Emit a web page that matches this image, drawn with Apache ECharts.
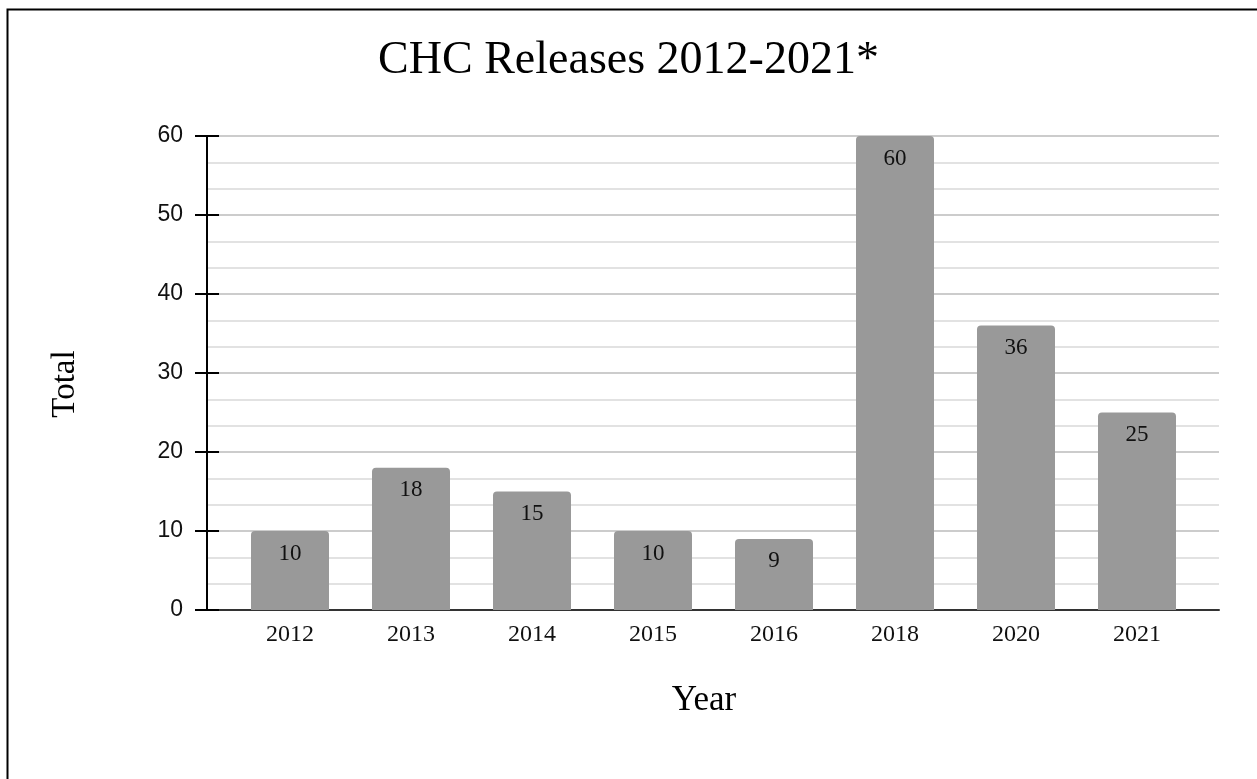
<!DOCTYPE html>
<html>
<head>
<meta charset="utf-8">
<title>CHC Releases 2012-2021*</title>
<script src="https://cdn.jsdelivr.net/npm/echarts@6/dist/echarts.min.js"></script>
<style>
  html, body { margin: 0; padding: 0; background: #ffffff; }
  #chart { width: 1257px; height: 779px; }
</style>
</head>
<body>
<div id="chart"></div>
<script>
// Release counts per year
const years = ['2012', '2013', '2014', '2015', '2016', '2018', '2020', '2021'];
const releases = [10, 18, 15, 10, 9, 60, 36, 25];
const yTicks = { min: 0, max: 60, step: 10 };

const SERIF = "'Liberation Serif', 'Times New Roman', Times, serif";
const SANS = "'Liberation Sans', Arial, Helvetica, sans-serif";

const chart = echarts.init(document.getElementById('chart'), null, { renderer: 'canvas' });

const plotTop = 136, plotBottom = 169;

chart.setOption({
  animation: false,
  backgroundColor: '#ffffff',
  grid: [
    // frame with gridlines and axes
    { left: 207, right: 38, top: plotTop, bottom: plotBottom },
    // inset area holding the bars
    { left: 229.5, right: 59.5, top: plotTop, bottom: plotBottom }
  ],
  xAxis: [
    {
      gridIndex: 0, type: 'value', min: 0, max: 1,
      axisLine: { show: true, onZero: false, lineStyle: { color: '#333333', width: 2 } },
      axisTick: { show: false }, axisLabel: { show: false }, splitLine: { show: false }
    },
    {
      gridIndex: 1, type: 'category', data: years,
      axisLine: { show: false }, axisTick: { show: false },
      axisLabel: { fontFamily: SERIF, fontSize: 24, color: '#111111', margin: 13 }
    }
  ],
  yAxis: [
    {
      gridIndex: 0, type: 'value', position: 'left',
      min: yTicks.min, max: yTicks.max, interval: yTicks.step,
      axisLine: { show: true, lineStyle: { color: '#000000', width: 2 } },
      axisTick: { show: true, length: 12, lineStyle: { color: '#000000', width: 2 } },
      axisLabel: { fontFamily: SANS, fontSize: 23, color: '#111111', margin: 24 },
      splitLine: { show: true, lineStyle: { color: '#cccccc', width: 2 } },
      minorTick: { show: false, splitNumber: 3 },
      minorSplitLine: { show: true, lineStyle: { color: '#e2e2e2', width: 2 } }
    },
    {
      // inner half of the crossing ticks
      gridIndex: 0, type: 'value', position: 'left', offset: 0,
      min: yTicks.min, max: yTicks.max, interval: yTicks.step,
      axisLine: { show: false },
      axisTick: { show: true, inside: true, length: 12, lineStyle: { color: '#000000', width: 2 } },
      axisLabel: { show: false }, splitLine: { show: false }
    },
    {
      gridIndex: 1, type: 'value', min: yTicks.min, max: yTicks.max, show: false
    }
  ],
  series: [
    {
      type: 'bar', name: 'Total',
      xAxisIndex: 1, yAxisIndex: 2,
      data: releases,
      barWidth: 78,
      itemStyle: { color: '#999999', borderRadius: [4, 4, 0, 0] },
      label: {
        show: true, position: 'insideTop', distance: 11,
        fontFamily: SERIF, fontSize: 23, color: '#111111'
      }
    }
  ],
  graphic: [
    {
      type: 'polyline', silent: true,
      shape: { points: [[7.5, 779], [7.5, 9.5], [1257, 9.5]] },
      style: { stroke: '#000000', lineWidth: 2, fill: null }
    },
    {
      type: 'text', x: 628.5, y: 61,
      style: { text: 'CHC Releases 2012-2021*', font: '46px ' + SERIF, fill: '#000000', align: 'center', verticalAlign: 'middle' }
    },
    {
      type: 'text', x: 704, y: 701,
      style: { text: 'Year', font: '35px ' + SERIF, fill: '#000000', align: 'center', verticalAlign: 'middle' }
    },
    {
      type: 'text', x: 65, y: 384, rotation: Math.PI / 2,
      style: { text: 'Total', font: '33px ' + SERIF, fill: '#000000', align: 'center', verticalAlign: 'middle' }
    }
  ]
});
</script>
</body>
</html>
